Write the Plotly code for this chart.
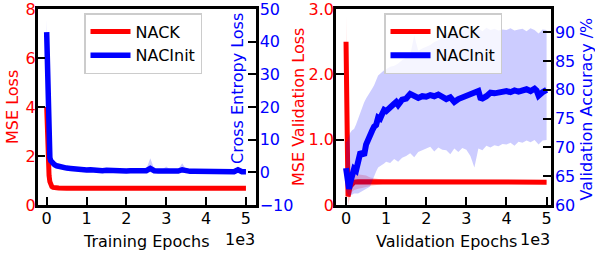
import plotly.graph_objects as go

# ---------------- data: training (left panel) ----------------
train_epochs_nack = [0, 20, 40, 60, 80, 100, 130, 160, 200, 300, 500, 1000, 2000, 3000, 4000, 5000]
nack_train_mse = [4.0, 2.6, 1.8, 1.2, 0.95, 0.82, 0.75, 0.72, 0.70, 0.69, 0.68, 0.68, 0.68, 0.68, 0.68, 0.68]

train_epochs_init = [0, 20, 40, 60, 80, 100, 150, 200, 250, 300, 400, 500, 600, 700, 800, 900,
                     1000, 1100, 1200, 1300, 1400, 1500, 1600, 1700, 1800, 1900, 2000, 2100, 2200,
                     2300, 2400, 2500, 2600, 2700, 2800, 2900, 3000, 3100, 3200, 3300, 3400, 3500,
                     3600, 3700, 3800, 3900, 4000, 4100, 4200, 4300, 4400, 4500, 4600, 4700, 4800,
                     4900, 5000]
init_train_ce = [42.9, 30.0, 15.0, 7.0, 4.5, 3.6, 2.8, 2.3, 2.0, 1.8, 1.5, 1.3, 1.2, 1.0, 0.9, 1.0,
                 0.7, 0.8, 0.6, 0.6, 0.5, 0.6, 0.5, 0.4, 0.6, 0.5, 0.4, 0.5, 0.4,
                 0.5, 0.6, 0.5, 1.2, 0.5, 0.4, 0.4, 0.6, 0.4, 0.3, 0.4, 0.8, 0.4,
                 0.3, 0.3, 0.3, 0.3, 0.3, 0.3, 0.2, 0.3, 0.2, 0.2, 0.3, 0.2, 0.8,
                 0.2, 0.2]
init_train_ce_upper = [47.0, 34.0, 18.0, 9.0, 6.0, 5.0, 3.8, 3.2, 2.7, 2.4, 2.0, 1.8, 1.7, 1.5, 1.4, 1.5,
                       1.2, 1.3, 1.1, 1.1, 1.0, 1.1, 1.0, 0.9, 1.1, 1.0, 0.9, 1.0, 0.9,
                       1.0, 1.1, 1.0, 4.3, 1.0, 0.9, 0.9, 1.8, 0.9, 0.8, 0.9, 2.8, 0.9,
                       0.8, 0.8, 0.8, 0.8, 0.8, 0.8, 0.7, 0.8, 0.7, 0.7, 0.8, 0.7, 1.5,
                       0.7, 0.7]
init_train_ce_lower = [38.0, 26.0, 12.0, 5.0, 3.0, 2.2, 1.8, 1.4, 1.3, 1.2, 1.0, 0.8, 0.7, 0.5, 0.4, 0.5,
                       0.2, 0.3, 0.1, 0.1, 0.0, 0.1, 0.0, -0.1, 0.1, 0.0, -0.1, 0.0, -0.1,
                       0.0, 0.1, 0.0, -0.2, 0.0, -0.1, -0.1, -0.1, -0.1, -0.2, -0.1, -0.2, -0.1,
                       -0.2, -0.2, -0.2, -0.2, -0.2, -0.2, -0.3, -0.2, -0.3, -0.3, -0.2, -0.3, 0.1,
                       -0.3, -0.3]

# ---------------- data: validation (right panel) ----------------
val_epochs_nack = [0, 50, 100, 150, 200, 300, 400, 500, 600, 1000, 1500, 2000, 2500, 3000, 3500, 4000, 4500, 5000]
nack_val_mse = [2.5, 0.13, 0.28, 0.33, 0.35, 0.355, 0.355, 0.355, 0.355, 0.355, 0.355, 0.355, 0.355, 0.355, 0.355, 0.355, 0.35, 0.35]
nack_val_upper = [2.9, 0.30, 0.45, 0.48, 0.48, 0.47, 0.46, 0.45, 0.42, 0.38, 0.37, 0.37, 0.37, 0.37, 0.37, 0.37, 0.36, 0.36]
nack_val_lower = [2.1, 0.00, 0.12, 0.20, 0.23, 0.25, 0.26, 0.27, 0.29, 0.33, 0.34, 0.34, 0.34, 0.34, 0.34, 0.34, 0.34, 0.34]

val_epochs_init = [0, 25, 50, 75, 100, 150, 200, 250, 300, 350, 400, 450, 500, 550, 600, 650, 700, 750,
                   800, 850, 900, 950, 1000, 1100, 1200, 1250, 1300, 1400, 1500, 1600, 1700, 1800,
                   1900, 2000, 2100, 2200, 2300, 2400, 2500, 2600, 2700, 2800, 2900, 3000, 3100,
                   3200, 3300, 3350, 3400, 3500, 3600, 3700, 3800, 3900, 4000, 4100, 4200, 4300,
                   4400, 4500, 4600, 4700, 4750, 4800, 4900, 5000]
init_val_acc = [66.4, 64.5, 63.0, 62.8, 63.8, 65.2, 66.3, 66.0, 67.5, 68.9, 69.0, 68.6, 70.5, 71.5, 72.0,
                72.9, 73.6, 73.9, 75.2, 75.0, 75.8, 76.5, 76.3, 76.8, 77.6, 77.9, 77.4, 78.3, 78.5,
                79.3, 79.0, 78.6, 78.9, 78.8, 79.1, 78.9, 79.2, 78.9, 78.4, 78.7, 77.9, 78.4, 78.7,
                78.8, 79.3, 79.6, 79.8, 78.6, 78.5, 78.9, 79.5, 79.4, 79.6, 79.7, 79.8, 79.6, 79.9,
                79.7, 80.0, 80.1, 79.8, 80.2, 79.9, 79.0, 79.6, 80.0]
init_val_upper = [71.0, 71.0, 71.5, 72.0, 72.5, 73.0, 73.2, 74.0, 75.0, 76.0, 77.0, 77.8, 78.5, 79.0, 79.5,
                  80.2, 80.8, 81.6, 82.5, 82.8, 83.2, 83.4, 83.6, 84.0, 84.2, 84.4, 84.6, 85.2, 85.6,
                  86.0, 89.5, 86.8, 87.2, 87.5, 87.8, 88.3, 88.6, 89.2, 89.8, 90.2, 90.6, 89.9, 90.3,
                  90.6, 90.9, 90.3, 90.7, 90.4, 90.2, 90.8, 90.4, 90.6, 90.3, 90.5, 90.4, 90.7, 90.3,
                  90.5, 90.6, 90.2, 90.7, 90.4, 90.1, 89.8, 90.5, 90.4]
init_val_lower = [62.5, 62.2, 61.8, 61.5, 61.5, 61.8, 62.0, 62.0, 62.0, 62.2, 62.3, 62.5, 62.8, 63.0, 63.2,
                  64.0, 65.0, 65.8, 66.5, 66.8, 67.0, 67.2, 67.5, 67.3, 68.0, 67.8, 67.5, 68.2, 68.5,
                  69.0, 68.3, 69.2, 69.5, 69.8, 70.1, 69.3, 70.0, 69.6, 69.5, 68.8, 69.8, 69.2, 69.9,
                  69.6, 68.5, 66.5, 69.8, 69.6, 69.5, 70.3, 70.0, 70.4, 70.2, 70.6, 70.5, 70.8, 70.3,
                  71.0, 70.8, 71.2, 70.9, 71.3, 71.0, 70.5, 71.2, 71.3]

x_tick_vals = [0, 1000, 2000, 3000, 4000, 5000]
x_tick_text = ["0", "1", "2", "3", "4", "5"]
mse_train_ticks = [0, 2, 4, 6, 8]
ce_ticks = [-10, 0, 10, 20, 30, 40, 50]
mse_val_ticks = [0, 1, 2, 3]
mse_val_text = ["0", "1.0", "2.0", "3.0"]
acc_ticks = [60, 65, 70, 75, 80, 85, 90]

RED = "#ff0000"
BLUE = "#0000ff"
FONT = "DejaVu Sans"
FS = 16
W, H = 595, 259


def band(x, lo, hi):
    return list(x) + list(x)[::-1], list(hi) + list(lo)[::-1]


fig = go.Figure()

# left panel
fig.add_trace(go.Scatter(x=train_epochs_nack, y=nack_train_mse, mode="lines",
                         line=dict(color=RED, width=5), name="NACK",
                         xaxis="x", yaxis="y", legend="legend", legendgroup="a"))
bx, by = band(train_epochs_init, init_train_ce_lower, init_train_ce_upper)
fig.add_trace(go.Scatter(x=bx, y=by, fill="toself", mode="lines", line=dict(width=0),
                         fillcolor="rgba(0,0,255,0.2)", showlegend=False, hoverinfo="skip",
                         xaxis="x", yaxis="y2"))
fig.add_trace(go.Scatter(x=train_epochs_init, y=init_train_ce, mode="lines",
                         line=dict(color=BLUE, width=5.5), name="NACInit",
                         xaxis="x", yaxis="y2", legend="legend", legendgroup="b"))

# right panel
bx, by = band(val_epochs_nack, nack_val_lower, nack_val_upper)
fig.add_trace(go.Scatter(x=bx, y=by, fill="toself", mode="lines", line=dict(width=0),
                         fillcolor="rgba(255,0,0,0.2)", showlegend=False, hoverinfo="skip",
                         xaxis="x2", yaxis="y3"))
fig.add_trace(go.Scatter(x=val_epochs_nack, y=nack_val_mse, mode="lines",
                         line=dict(color=RED, width=5), name="NACK",
                         xaxis="x2", yaxis="y3", legend="legend2", legendgroup="c"))
bx, by = band(val_epochs_init, init_val_lower, init_val_upper)
fig.add_trace(go.Scatter(x=bx, y=by, fill="toself", mode="lines", line=dict(width=0),
                         fillcolor="rgba(0,0,255,0.2)", showlegend=False, hoverinfo="skip",
                         xaxis="x2", yaxis="y4"))
fig.add_trace(go.Scatter(x=val_epochs_init, y=init_val_acc, mode="lines",
                         line=dict(color=BLUE, width=6), name="NACInit",
                         xaxis="x2", yaxis="y4", legend="legend2", legendgroup="d"))

ydom = [1 - 205 / H, 1 - 9 / H]
common = dict(showline=True, linecolor="black", linewidth=2.5, ticks="inside", ticklen=8,
              tickwidth=2, tickcolor="black", showgrid=False, zeroline=False, automargin=False,
              ticklabeloverflow="allow")

fig.update_layout(
    width=W, height=H, margin=dict(l=0, r=0, t=0, b=0, autoexpand=False),
    paper_bgcolor="white", plot_bgcolor="white",
    font=dict(family=FONT, size=FS, color="black"),
    xaxis=dict(domain=[37.7 / W, 255.7 / W], range=[-225, 5245], anchor="y", mirror=True,
               tickvals=x_tick_vals, ticktext=x_tick_text, tickfont=dict(color="black", size=FS),
               ticklabelstandoff=-3, **common),
    yaxis=dict(domain=ydom, range=[0, 8], anchor="x", tickvals=mse_train_ticks,
               tickfont=dict(color=RED, size=FS), ticklabelstandoff=-4, **common),
    yaxis2=dict(range=[-10, 50], overlaying="y", side="right", anchor="x", tickvals=ce_ticks,
                tickfont=dict(color=BLUE, size=FS), ticklabelstandoff=-2, **common),
    xaxis2=dict(domain=[336 / W, 551 / W], range=[-250, 5110], anchor="y3", mirror=True,
                tickvals=x_tick_vals, ticktext=x_tick_text, tickfont=dict(color="black", size=FS),
                ticklabelstandoff=-3, **common),
    yaxis3=dict(domain=ydom, range=[0, 3], anchor="x2", tickvals=mse_val_ticks, ticktext=mse_val_text,
                tickfont=dict(color=RED, size=FS), ticklabelstandoff=-4, **common),
    yaxis4=dict(range=[60, 94.05], overlaying="y3", side="right", anchor="x2", tickvals=acc_ticks,
                tickfont=dict(color=BLUE, size=FS), ticklabelstandoff=-2, **common),
    legend=dict(x=84 / W, y=1 - 13 / H, xanchor="left", yanchor="top",
                bgcolor="rgba(255,255,255,0.8)", bordercolor="#cccccc", borderwidth=1.5,
                font=dict(size=FS, color="black"), tracegroupgap=0, itemwidth=40),
    legend2=dict(x=384 / W, y=1 - 13 / H, xanchor="left", yanchor="top",
                 bgcolor="rgba(255,255,255,0.8)", bordercolor="#cccccc", borderwidth=1.5,
                 font=dict(size=FS, color="black"), tracegroupgap=0, itemwidth=40),
)

ann = [
    dict(text="Training Epochs", x=146.7 / W, y=1 - 241.7 / H, color="black", angle=0, xa="center"),
    dict(text="1e3", x=257 / W, y=1 - 239.3 / H, color="black", angle=0, xa="right"),
    dict(text="MSE Loss", x=12.5 / W, y=1 - 107.5 / H, color=RED, angle=-90, xa="center"),
    dict(text="Cross Entropy Loss", x=237 / W, y=1 - 88 / H, color=BLUE, angle=-90, xa="center"),
    dict(text="Validation Epochs", x=446 / W, y=1 - 241.7 / H, color="black", angle=0, xa="center"),
    dict(text="1e3", x=552 / W, y=1 - 239.3 / H, color="black", angle=0, xa="right"),
    dict(text="MSE Validation Loss", x=298 / W, y=1 - 107 / H, color=RED, angle=-90, xa="center"),
    dict(text="Validation Accuracy /%", x=585.5 / W, y=1 - 109 / H, color=BLUE, angle=-90, xa="center"),
]
for a in ann:
    fig.add_annotation(text=a["text"], x=a["x"], y=a["y"], xref="paper", yref="paper",
                       xanchor=a["xa"], yanchor="middle", showarrow=False, textangle=a["angle"],
                       font=dict(family=FONT, size=FS, color=a["color"]))

fig.write_html("out.html", config={"displayModeBar": False},
               post_script="document.body.style.margin='0';document.body.style.overflow='hidden';")
